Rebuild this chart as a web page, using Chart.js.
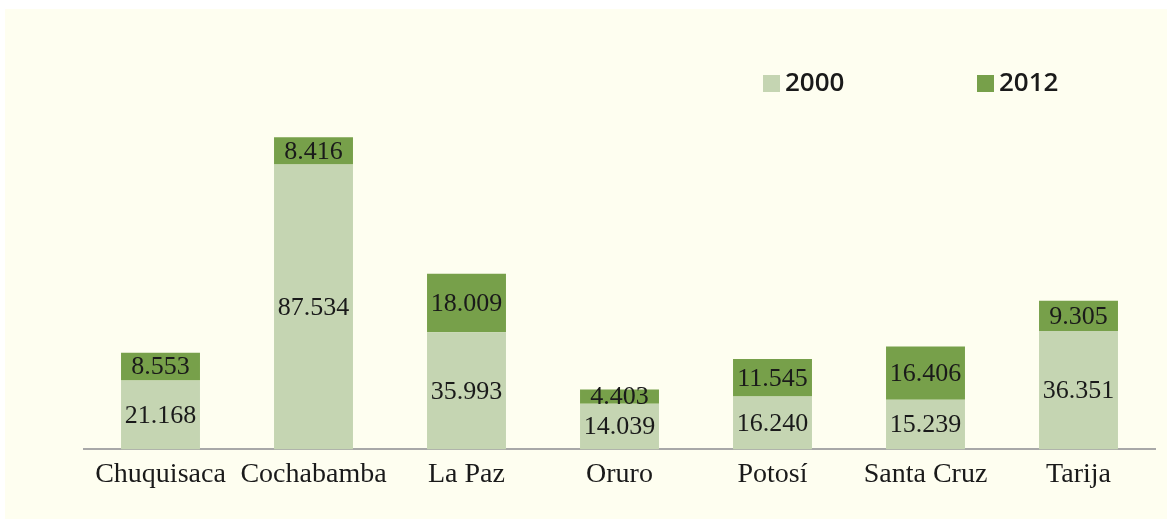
<!DOCTYPE html>
<html>
<head>
<meta charset="utf-8">
<script src="https://cdn.jsdelivr.net/npm/chart.js@4/dist/chart.umd.min.js"></script>
<style>
  html, body { margin: 0; padding: 0; background: #ffffff; }
  #wrap { position: absolute; left: 5px; top: 9px; width: 1162px; height: 510px; background: #fefef0; }
</style>
</head>
<body>
<div id="wrap"><canvas id="chart"></canvas></div>
<script>
const departments = ["Chuquisaca", "Cochabamba", "La Paz", "Oruro", "Potosí", "Santa Cruz", "Tarija"];
const values2000 = [21.168, 87.534, 35.993, 14.039, 16.240, 15.239, 36.351];
const values2012 = [8.553, 8.416, 18.009, 4.403, 11.545, 16.406, 9.305];
const seriesNames = ["2000", "2012"];

const lightGreen = "#c5d5b2";
const darkGreen = "#77a04a";

// numbers written with a dot and three decimals, like the source
const fmt = v => v.toFixed(3);

// value labels centred on each stacked segment
const segmentLabels = {
  id: "segmentLabels",
  afterDatasetsDraw(chart) {
    const ctx = chart.ctx;
    ctx.save();
    ctx.font = "26px 'Liberation Serif'";
    ctx.fillStyle = "#1a1a1a";
    ctx.textAlign = "center";
    ctx.textBaseline = "middle";
    chart.data.datasets.forEach((ds, i) => {
      chart.getDatasetMeta(i).data.forEach((bar, j) => {
        const y = (bar.y + bar.base) / 2;
        ctx.fillText(fmt(ds.data[j]), bar.x, y + 1);
      });
    });
    ctx.restore();
  }
};

// legend placed up on the right, as in the picture
const topLegend = {
  id: "topLegend",
  afterDraw(chart) {
    const ctx = chart.ctx;
    const area = chart.chartArea;
    ctx.save();
    ctx.font = "600 26px 'Open Sans'";
    ctx.textBaseline = "middle";
    const startX = [area.left + 679, area.left + 893];
    chart.data.datasets.forEach((ds, i) => {
      const x = startX[i];
      const y = 74;
      ctx.fillStyle = ds.backgroundColor;
      ctx.fillRect(x, y - 8, 17, 17);
      ctx.fillStyle = "#1a1a1a";
      ctx.fillText(ds.label, x + 22, y + 1);
    });
    ctx.restore();
  }
};

new Chart(document.getElementById("chart"), {
  type: "bar",
  data: {
    labels: departments,
    datasets: [
      { label: seriesNames[0], data: values2000, backgroundColor: lightGreen },
      { label: seriesNames[1], data: values2012, backgroundColor: darkGreen }
    ]
  },
  options: {
    responsive: true,
    maintainAspectRatio: false,
    animation: false,
    datasets: { bar: { barPercentage: 0.516, categoryPercentage: 1 } },
    layout: { padding: { left: 79, right: 12, top: 115, bottom: 28 } },
    plugins: {
      legend: { display: false },
      tooltip: { enabled: false }
    },
    scales: {
      x: {
        stacked: true,
        grid: { display: false },
        border: { color: "#a8a8a8", width: 2 },
        ticks: {
          color: "#1a1a1a",
          padding: 0,
          font: { family: "'Liberation Serif'", size: 28 }
        }
      },
      y: {
        stacked: true,
        display: false,
        min: 0,
        max: 100
      }
    }
  },
  plugins: [segmentLabels, topLegend]
});
</script>
</body>
</html>
